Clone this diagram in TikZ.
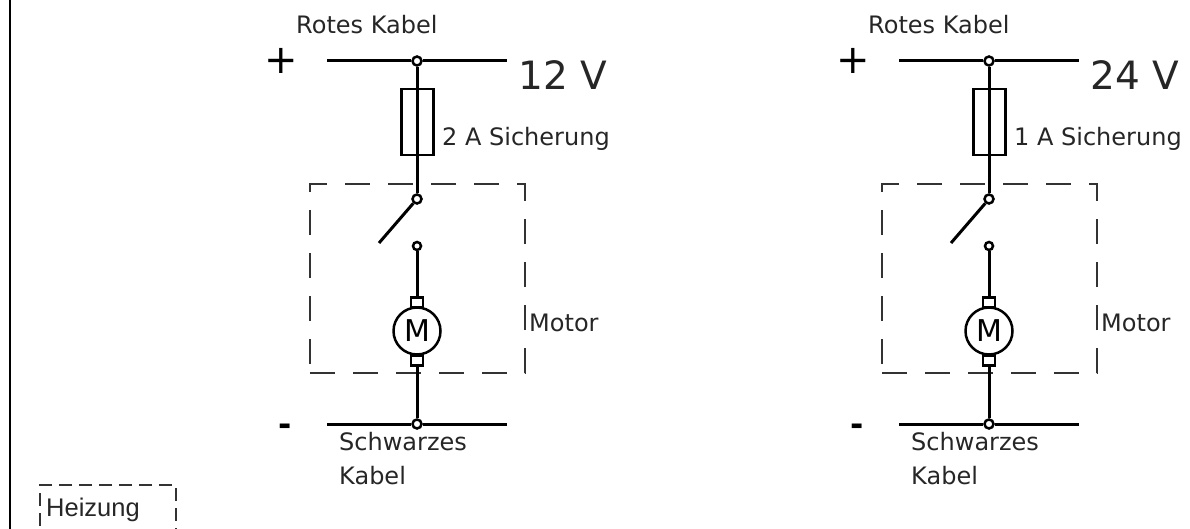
\documentclass[tikz,border=0pt]{standalone}
\usepackage{fontspec}
\setmainfont{DejaVu Sans}
\newfontfamily\heizfont{Liberation Sans}

\begin{document}
\begin{tikzpicture}[x=1pt,y=-1pt]
        \useasboundingbox (0,0) rectangle (1190,529);
        \tikzset{
                wire/.style={line width=3pt},
                joint/.style={circle, draw, fill=white, line width=2.5pt, minimum size=9pt, inner sep=0},
                label/.style={inner sep=0, anchor=west, font=\fontsize{24}{28}\selectfont, text=black!85},
                dashbox/.style={draw, line width=1.5pt, black!80, dash pattern=on 25pt off 18pt, inner sep=0}
        }
        \draw[line width=2pt] (10,0) -- (10,529);
        \foreach \c/\x/\volt/\amp in {l/0/12/2, r/572/24/1} {
                \begin{scope}[xshift=\x pt]
                        \node (plus\c) at (281,61) [inner sep=0, font=\fontsize{40}{40}\selectfont] {+};
                        \node (minus\c) at (285.5,430) [inner sep=0, font=\bfseries\fontsize{32}{32}\selectfont] {-};
                        \coordinate (tl\c) at (327,61);
                        \coordinate (tr\c) at (507,61);
                        \coordinate (bl\c) at (327,424);
                        \coordinate (br\c) at (507,424);
                        \coordinate (blade\c) at (379,243);
                        \node (box\c) at (417.5,278.5) [dashbox, minimum width=215pt, minimum height=189pt] {};
                        \node (fuse\c) at (417.5,122) [draw, line width=2.5pt, minimum width=32pt, minimum height=66pt, inner sep=0] {};
                        \node (tj\c) at (417,61) [joint] {};
                        \node (up\c) at (417,199) [joint] {};
                        \node (lo\c) at (417,246) [joint, minimum size=8pt] {};
                        \node (mot\c) at (417,331) [circle, draw, line width=2.5pt, minimum size=47pt, inner sep=0, font=\fontsize{30}{30}\selectfont] {M};
                        \node (bu\c) at (417,302.5) [draw, fill=white, line width=2.5pt, minimum width=12pt, minimum height=10pt, inner sep=0] {};
                        \node (bd\c) at (417,360.5) [draw, fill=white, line width=2.5pt, minimum width=12pt, minimum height=10pt, inner sep=0] {};
                        \node (bj\c) at (417,424) [joint] {};
                        \draw[wire] (tl\c) -- (tj\c);
                        \draw[wire] (tj\c) -- (tr\c);
                        \draw[wire] (tj\c) -- (up\c);
                        \draw[wire] (up\c) -- (blade\c);
                        \draw[wire] (lo\c) -- (bu\c);
                        \draw[wire] (bd\c) -- (bj\c);
                        \draw[wire] (bl\c) -- (bj\c);
                        \draw[wire] (bj\c) -- (br\c);
                        \node (red\c) at (296,25) [label] {Rotes Kabel};
                        \node (volt\c) at (518,75) [label, font=\fontsize{39}{39}\selectfont] {\volt\ V};
                        \node (amp\c) at (442,139) [label] {\amp\ A Sicherung};
                        \node (mtxt\c) at (529,323) [label] {Motor};
                        \node (blk\c) at (339,442) [label] {Schwarzes};
                        \node (cab\c) at (339,476) [label] {Kabel};
                \end{scope}
        }
        \node (heiz) at (108,535) [dashbox, dash pattern=on 13pt off 7pt, minimum width=136pt, minimum height=100pt] {};
        \node (heiztxt) at (46,510) [label, font=\heizfont\fontsize{25.5}{26}\selectfont] {Heizung};
\end{tikzpicture}
\end{document}
